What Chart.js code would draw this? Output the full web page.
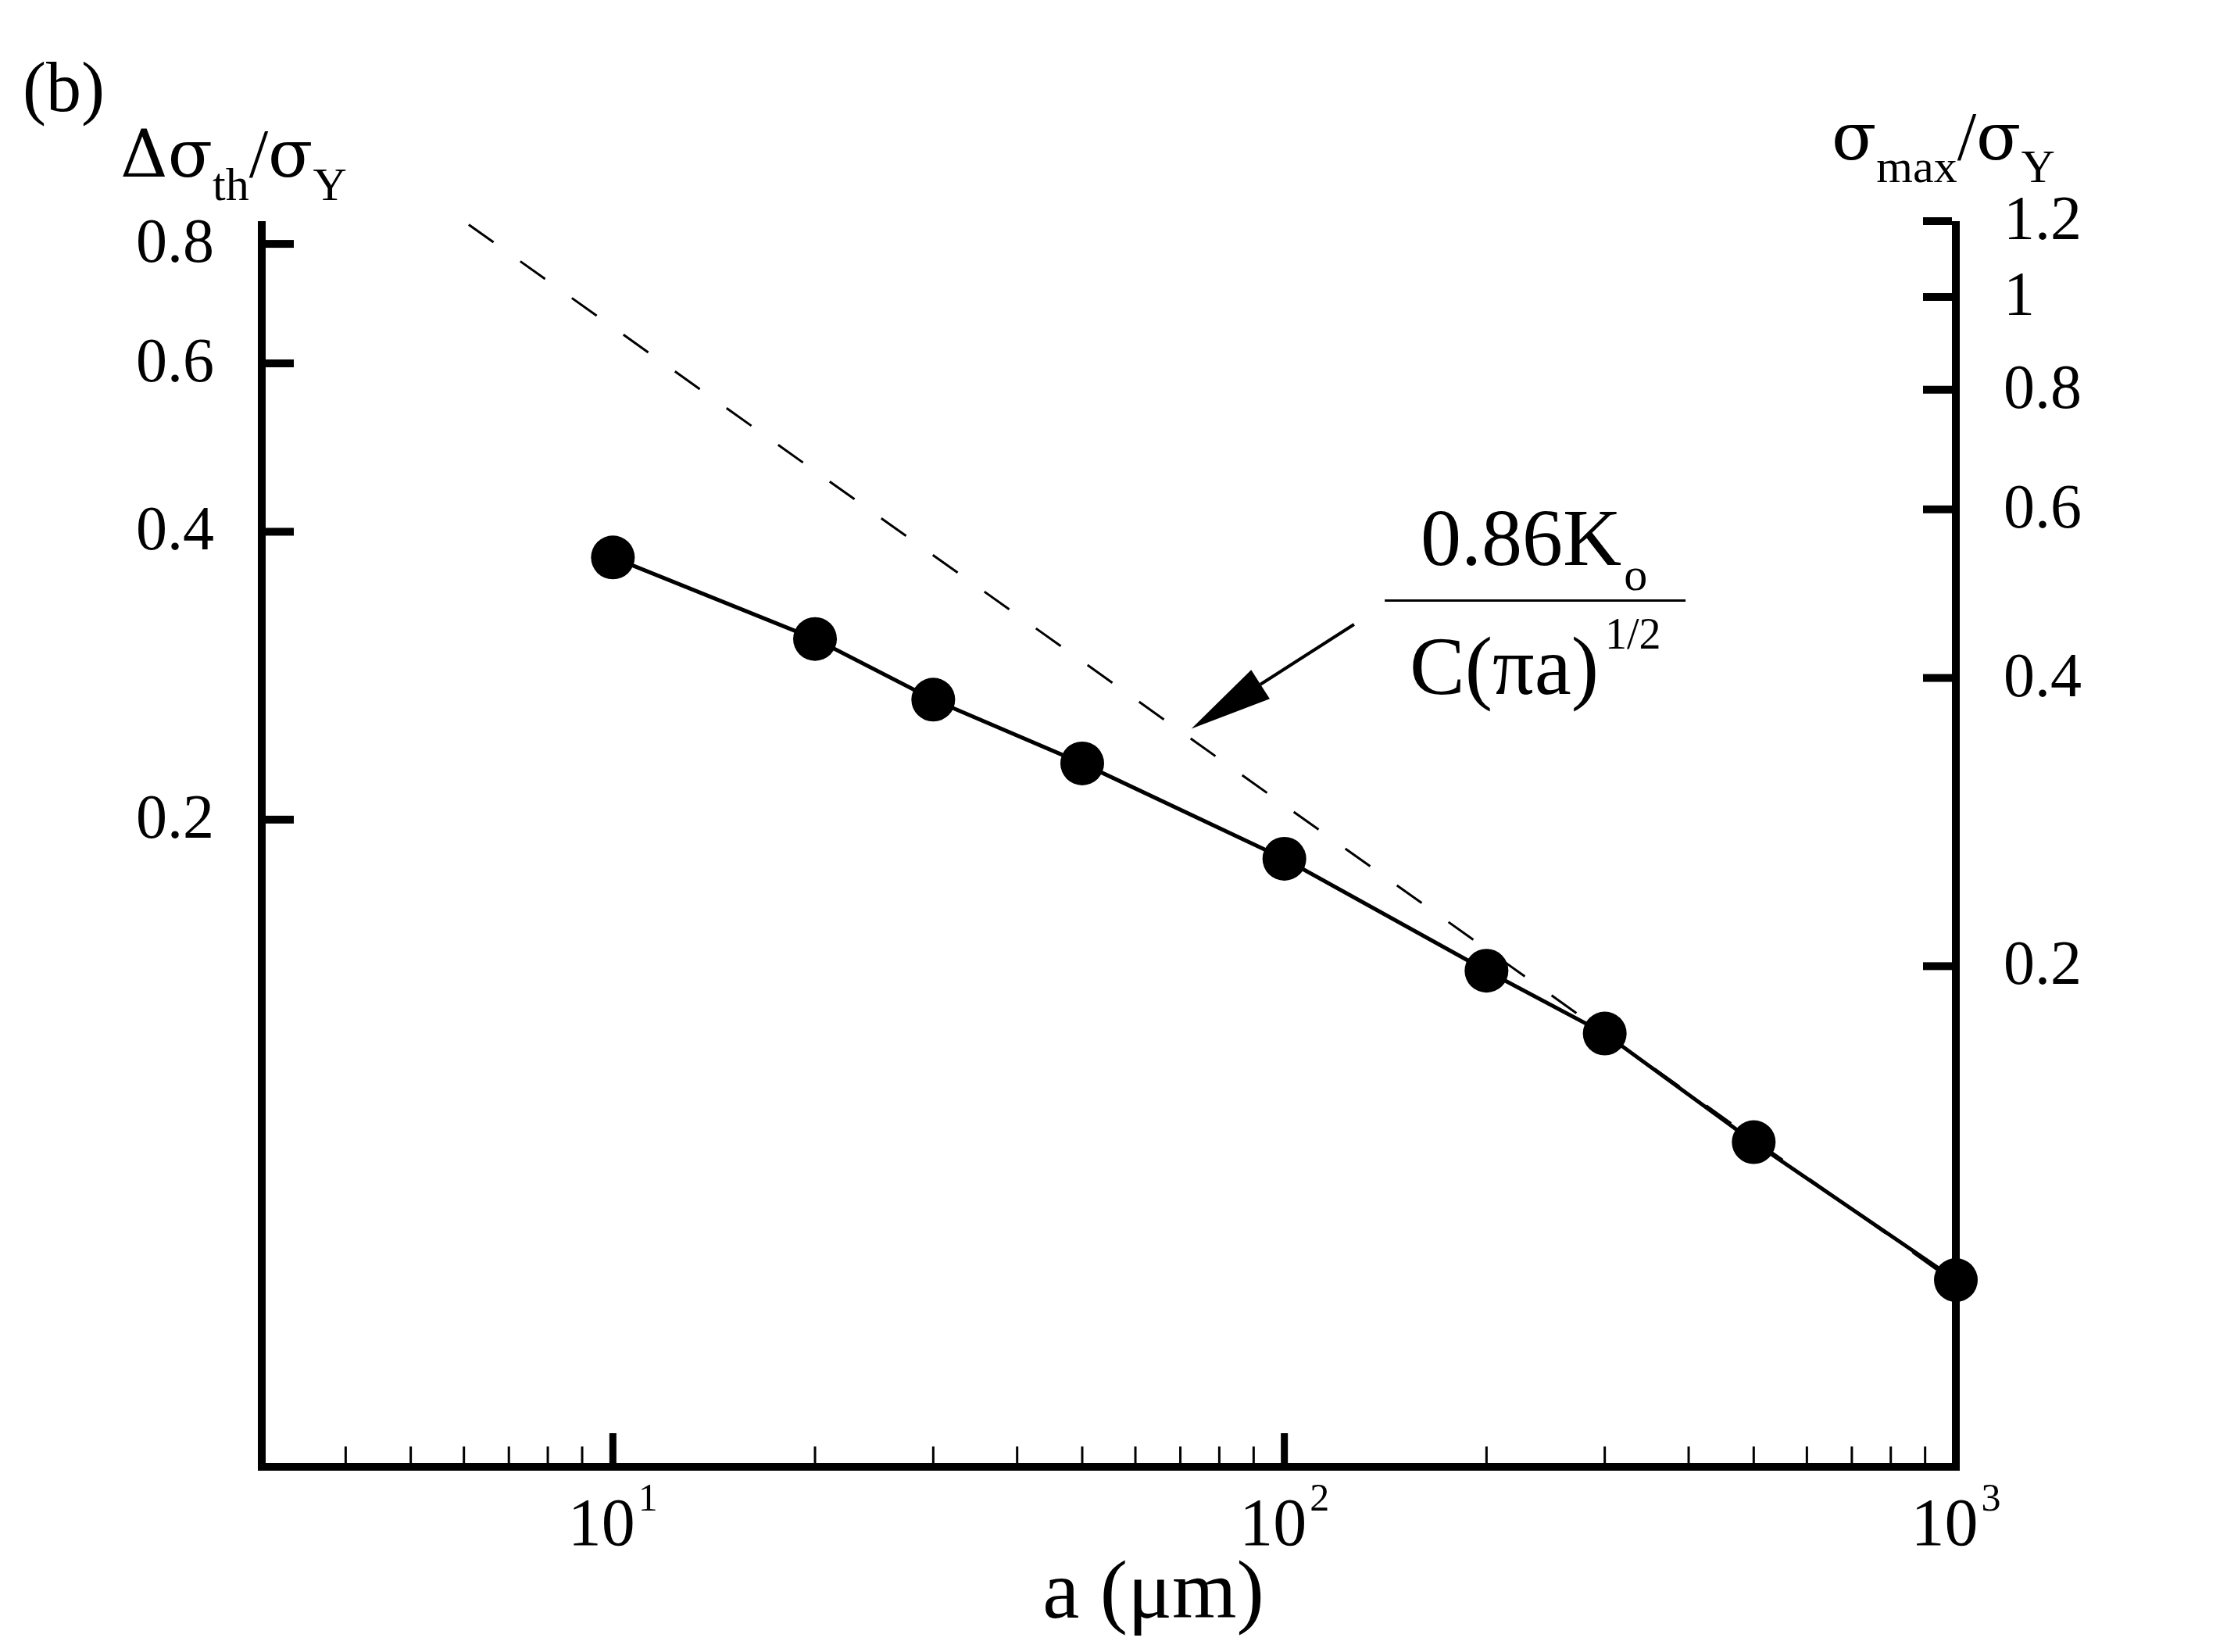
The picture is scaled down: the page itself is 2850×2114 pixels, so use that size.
<!DOCTYPE html>
<html>
<head>
<meta charset="utf-8">
<script src="https://cdn.jsdelivr.net/npm/chart.js@4.4.1/dist/chart.umd.min.js"></script>
<style>
  html, body { margin: 0; padding: 0; background: #fff; }
  canvas { display: block; }
</style>
</head>
<body>
<canvas id="thresholdChart" width="2850" height="2114" style="width:2850px;height:2114px"></canvas>
<script>
// crack length a (um) and normalised threshold stress
var crackLength = [10, 20, 30, 50, 100, 200, 300, 500, 1000];
var thresholdRatio = [0.376, 0.309, 0.267, 0.229, 0.182, 0.139, 0.1195, 0.092, 0.066];

// 0.86Ko / C(pi a)^1/2 dashed line, end points
var fitLength = [6.1, 1000];
var fitRatio = [0.838, 0.0655];

// ticks
var xMajorTicks = [10, 100, 1000];
var xMinorTicks = [4, 5, 6, 7, 8, 9, 20, 30, 40, 50, 60, 70, 80, 90, 200, 300, 400, 500, 600, 700, 800, 900];
var leftTicks = [0.2, 0.4, 0.6, 0.8];
var rightTicks = [0.2, 0.4, 0.6, 0.8, 1, 1.2];

// annotation placement in data units (a, left axis)
var labelAt = [236, 0.339];
var arrowFrom = [127, 0.32];
var arrowTo = [72.7, 0.249];

var SERIF = '"Liberation Serif", "Times New Roman", serif';
var GREEK = '"DejaVu Serif", "Liberation Serif", serif';

function toPoints(xs, ys) {
    var pts = [];
    for (var i = 0; i < xs.length; i++) pts.push({ x: xs[i], y: ys[i] });
    return pts;
}

// draws a run of text pieces, each with its own size and baseline shift
function drawRun(ctx, x, y, pieces) {
    pieces.forEach(function(p) {
        ctx.font = p.size + 'px ' + (p.fam || SERIF);
        ctx.fillText(p.t, x, y + (p.dy || 0));
        x += ctx.measureText(p.t).width + (p.gap || 0);
    });
    return x;
}

var framePlugin = {
    id: 'frame',
    beforeDatasetsDraw: function(chart) {
        var ctx = chart.ctx, ca = chart.chartArea, s = chart.scales;
        ctx.save();
        ctx.fillStyle = '#000';
        ctx.strokeStyle = '#000';

        // axis lines (no top border)
        ctx.lineWidth = 10;
        ctx.beginPath();
        ctx.moveTo(ca.left, ca.top); ctx.lineTo(ca.left, ca.bottom + 5);
        ctx.moveTo(ca.left - 5, ca.bottom); ctx.lineTo(ca.right + 5, ca.bottom);
        ctx.moveTo(ca.right, ca.bottom + 5); ctx.lineTo(ca.right, ca.top);
        ctx.stroke();

        // x ticks pointing inward
        xMajorTicks.forEach(function(v) {
            var x = s.x.getPixelForValue(v);
            if (x < ca.right - 10) ctx.fillRect(x - 4.5, ca.bottom - 5 - 38, 9, 38);
        });
        xMinorTicks.forEach(function(v) {
            var x = s.x.getPixelForValue(v);
            ctx.fillRect(x - 1.5, ca.bottom - 5 - 21, 3, 21);
        });

        // left ticks + labels
        ctx.font = '80px ' + SERIF;
        ctx.textBaseline = 'middle';
        ctx.textAlign = 'right';
        leftTicks.forEach(function(v) {
            var y = s.y.getPixelForValue(v);
            ctx.fillRect(ca.left + 5, y - 5, 36, 10);
            ctx.fillText(String(v), ca.left - 61, y + 2);
        });

        // right ticks + labels
        ctx.textAlign = 'left';
        rightTicks.forEach(function(v) {
            var y = s.y2.getPixelForValue(v);
            ctx.fillRect(ca.right - 5 - 37, y - 5, 37, 10);
            ctx.fillText(String(v), ca.right + 61, y + 2);
        });

        // x tick labels 10^n
        ctx.textBaseline = 'alphabetic';
        xMajorTicks.forEach(function(v) {
            var x = s.x.getPixelForValue(v);
            var exp = String(Math.round(Math.log10(v)));
            ctx.font = '86px ' + SERIF;
            var w1 = ctx.measureText('10').width;
            ctx.font = '50px ' + SERIF;
            var w2 = ctx.measureText(exp).width;
            var x0 = x - (w1 + w2 + 4) / 2;
            drawRun(ctx, x0, ca.bottom + 100, [
                { t: '10', size: 86, gap: 4 },
                { t: exp, size: 50, dy: -44 }
            ]);
        });

        // axis titles
        ctx.font = '106px ' + SERIF;
        ctx.textAlign = 'center';
        ctx.fillText('a (\u03bcm)', ca.left + 1141, ca.bottom + 193);
        ctx.textAlign = 'left';

        drawRun(ctx, 154, 226, [
            { t: '\u0394\u03c3', size: 84, fam: GREEK },
            { t: 'th', size: 60, dy: 30 },
            { t: '/', size: 88 },
            { t: '\u03c3', size: 84, fam: GREEK },
            { t: 'Y', size: 60, dy: 30 }
        ]);
        drawRun(ctx, 2344, 204, [
            { t: '\u03c3', size: 84, fam: GREEK },
            { t: 'max', size: 60, dy: 29 },
            { t: '/', size: 88 },
            { t: '\u03c3', size: 84, fam: GREEK },
            { t: 'Y', size: 60, dy: 29 }
        ]);

        ctx.font = '90px ' + SERIF;
        ctx.fillText('(b)', 29, 142);

        // formula label with fraction bar
        var lx = s.x.getPixelForValue(labelAt[0]);
        var ly = s.y.getPixelForValue(labelAt[1]);
        ctx.lineWidth = 3;
        ctx.beginPath();
        ctx.moveTo(lx - 192, ly); ctx.lineTo(lx + 193, ly);
        ctx.stroke();
        drawRun(ctx, lx - 146, ly - 45, [
            { t: '0.86K', size: 104, gap: 3 },
            { t: 'o', size: 60, dy: 32 }
        ]);
        drawRun(ctx, lx - 160, ly + 120, [
            { t: 'C(\u03c0a)', size: 106, gap: 8 },
            { t: '1/2', size: 56, dy: -58 }
        ]);

        // arrow
        var ax0 = s.x.getPixelForValue(arrowFrom[0]), ay0 = s.y.getPixelForValue(arrowFrom[1]);
        var ax1 = s.x.getPixelForValue(arrowTo[0]), ay1 = s.y.getPixelForValue(arrowTo[1]);
        var ang = Math.atan2(ay1 - ay0, ax1 - ax0);
        var headLen = 105, headHalf = 22;
        var bx = ax1 - headLen * Math.cos(ang), by = ay1 - headLen * Math.sin(ang);
        ctx.lineWidth = 4;
        ctx.beginPath();
        ctx.moveTo(ax0, ay0); ctx.lineTo(bx, by);
        ctx.stroke();
        ctx.beginPath();
        ctx.moveTo(ax1, ay1);
        ctx.lineTo(bx + headHalf * Math.sin(ang), by - headHalf * Math.cos(ang));
        ctx.lineTo(bx - headHalf * Math.sin(ang), by + headHalf * Math.cos(ang));
        ctx.closePath();
        ctx.fill();

        ctx.restore();
    }
};

var hiddenAxis = {
    type: 'logarithmic',
    ticks: { display: false },
    grid: { display: false, drawTicks: false },
    border: { display: false }
};

new Chart(document.getElementById('thresholdChart').getContext('2d'), {
    type: 'scatter',
    data: {
        datasets: [
            {
                label: 'computed',
                data: toPoints(crackLength, thresholdRatio),
                yAxisID: 'y',
                showLine: true,
                borderColor: '#000',
                borderWidth: 5,
                pointRadius: 28,
                pointBackgroundColor: '#000',
                pointBorderWidth: 0,
                clip: false
            },
            {
                label: '0.86Ko/C(pi a)^1/2',
                data: toPoints(fitLength, fitRatio),
                yAxisID: 'y',
                showLine: true,
                borderColor: '#000',
                borderWidth: 3,
                borderDash: [39, 42],
                pointRadius: 0
            }
        ]
    },
    options: {
        responsive: false,
        animation: false,
        devicePixelRatio: 1,
        layout: { padding: { left: 335, right: 347, top: 283, bottom: 237 } },
        plugins: { legend: { display: false }, tooltip: { enabled: false } },
        scales: {
            x: Object.assign({}, hiddenAxis, {
                position: 'bottom', min: 3, max: 1000,
                afterFit: function(s) { s.height = 0; }
            }),
            y: Object.assign({}, hiddenAxis, {
                position: 'left', min: 0.0421, max: 0.845,
                afterFit: function(s) { s.width = 0; }
            }),
            y2: Object.assign({}, hiddenAxis, {
                position: 'right', min: 0.06, max: 1.2,
                afterFit: function(s) { s.width = 0; }
            })
        }
    },
    plugins: [framePlugin]
});
</script>
</body>
</html>
